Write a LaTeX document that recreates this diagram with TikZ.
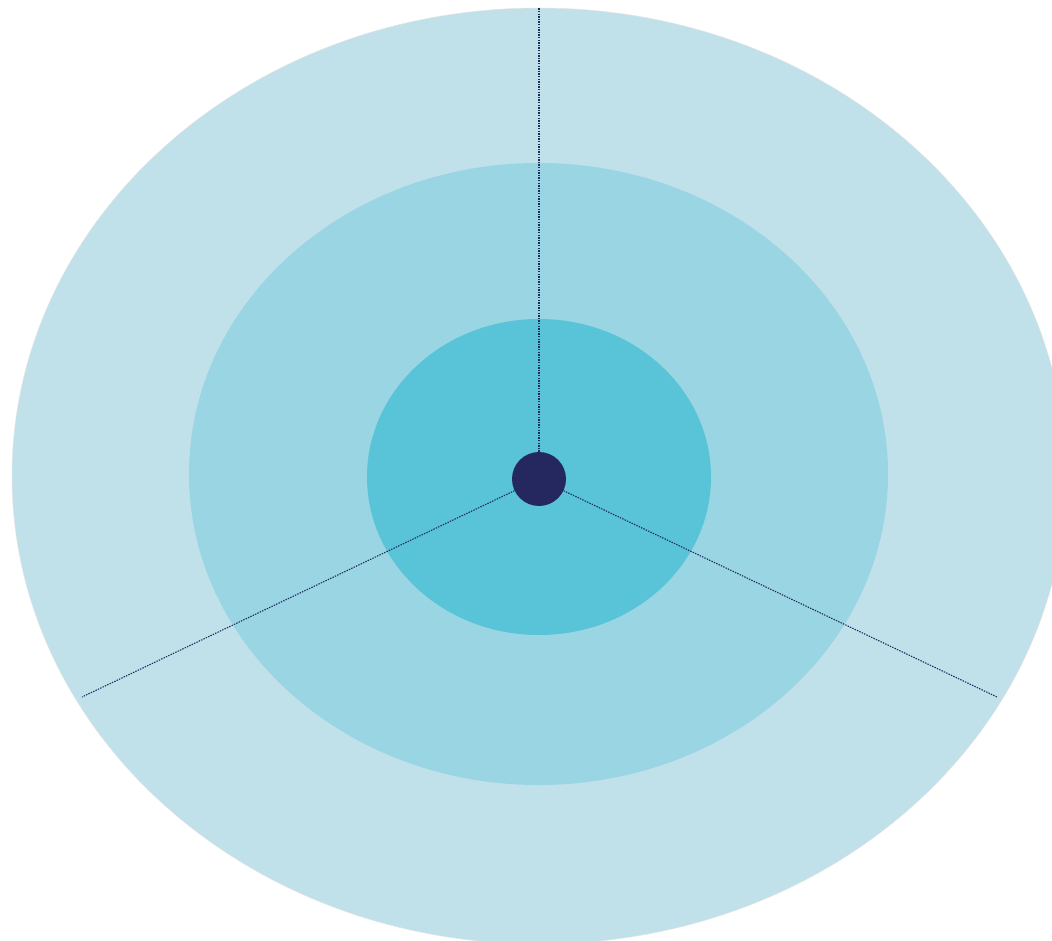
\documentclass[tikz,border=0pt]{standalone}
\definecolor{ringout}{HTML}{C0E0EA}
\definecolor{ringmid}{HTML}{9AD5E3}
\definecolor{ringin}{HTML}{59C3D7}
\definecolor{hub}{HTML}{25285F}
\definecolor{lineC}{HTML}{1F2A5C}
\tikzset{
  dotline/.style={draw=lineC, line width=1.1pt, dash pattern=on 1.4pt off 1.2pt},
  hubdot/.style={circle, fill=hub, minimum size=54pt, inner sep=0pt}
}
\begin{document}
\begin{tikzpicture}[x=1pt,y=-1pt]
\useasboundingbox (0,0) rectangle (1052,941);
\clip (0,0) rectangle (1052,941);
\fill[ringout] (539,476) ellipse [x radius=527pt, y radius=468pt];
\draw[white!80!gray, line width=0.5pt] (539,476) ellipse [x radius=527pt, y radius=468pt];
\fill[ringmid] (538.5,474) ellipse [x radius=349.5pt, y radius=311pt];
\fill[ringin] (539,477) ellipse [x radius=172pt, y radius=158pt];
\node[hubdot] (c) at (539,479) {};
\coordinate (top) at (539,8);
\coordinate (left) at (82,697);
\coordinate (right) at (997,697);
\draw[dotline] (c) -- (top);
\draw[dotline] (c) -- (left);
\draw[dotline] (c) -- (right);
\end{tikzpicture}
\end{document}
